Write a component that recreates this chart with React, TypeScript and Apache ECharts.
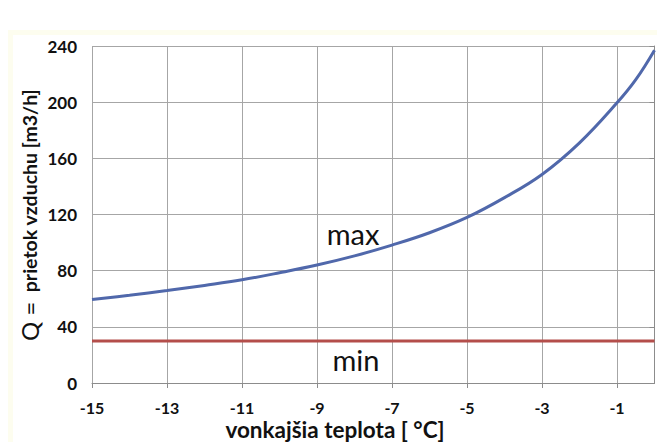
import React, { useEffect, useRef } from "react";
import * as echarts from "echarts";

const temps = [-15, -14, -13, -12, -11, -10, -9, -8, -7, -6, -5, -4, -3, -2, -1, -0.5, 0];
const maxFlow = [59.5, 62.5, 65.8, 69.5, 73.5, 78.5, 84, 90.5, 98.2, 107, 117.9, 132, 148.5, 171, 199.5, 216, 237];
const minTemps = [-15, 0];
const minFlow = [30, 30];

const FONT = "Lato, 'Open Sans', sans-serif";

export default function App() {
  const ref = useRef<HTMLDivElement>(null);
  useEffect(() => {
    if (!ref.current) return;
    const chart = echarts.init(ref.current, undefined, { renderer: "svg" });
    chart.setOption({
      animation: false,
      backgroundColor: "#ffffff",
      textStyle: { fontFamily: FONT },
      grid: { left: 92, right: 2.5, top: 46, bottom: 59, containLabel: false },
      xAxis: {
        type: "value",
        min: -15,
        max: 0,
        interval: 2,
        axisLine: { show: true, onZero: false, lineStyle: { color: "#8c8c8c", width: 1 } },
        axisTick: { show: true, length: 5, lineStyle: { color: "#8c8c8c" } },
        axisLabel: {
          margin: 16,
          fontSize: 16,
          fontWeight: "bold",
          color: "#111",
          fontFamily: FONT,
          showMaxLabel: false,
        },
        splitLine: { show: true, showMaxLine: false, lineStyle: { color: "#a6a6a6", width: 1 } },
      },
      yAxis: {
        type: "value",
        min: 0,
        max: 240,
        interval: 40,
        axisLine: { show: true, lineStyle: { color: "#8c8c8c", width: 1 } },
        axisTick: { show: true, length: 5, lineStyle: { color: "#8c8c8c" } },
        axisLabel: {
          margin: 15,
          fontSize: 17,
          fontWeight: "bold",
          color: "#111",
          fontFamily: FONT,
        },
        splitLine: { show: true, lineStyle: { color: "#a6a6a6", width: 1 } },
      },
      graphic: [
        {
          type: "rect",
          z: -100,
          silent: true,
          shape: { x: 8, y: 30, width: 660, height: 420 },
          style: { fill: "#fdfdef" },
        },
        {
          type: "rect",
          z: -99,
          silent: true,
          shape: { x: 13, y: 35, width: 660, height: 420 },
          style: { fill: "#ffffff" },
        },
        {
          type: "text",
          x: 335,
          y: 429,
          style: {
            text: "vonkajšia teplota [ °C]",
            fontFamily: FONT,
            fontSize: 22.5,
            fontWeight: "bold",
            fill: "#111",
            align: "center",
            verticalAlign: "middle",
          },
        },
        {
          type: "text",
          x: 29,
          y: 215,
          rotation: Math.PI / 2,
          style: {
            text: "{q|Q =}   {b|prietok vzduchu [m3/h]}",
            fontFamily: FONT,
            fill: "#111",
            align: "center",
            verticalAlign: "middle",
            rich: {
              q: { fontSize: 24, fontFamily: FONT, fill: "#111" },
              b: { fontSize: 19.5, fontWeight: "bold", fontFamily: FONT, fill: "#111" },
            },
          },
        },
        {
          type: "text",
          x: 353,
          y: 233,
          style: {
            text: "max",
            fontFamily: FONT,
            fontSize: 29,
            fill: "#111",
            align: "center",
            verticalAlign: "middle",
          },
        },
        {
          type: "text",
          x: 356,
          y: 359,
          style: {
            text: "min",
            fontFamily: FONT,
            fontSize: 29,
            fill: "#111",
            align: "center",
            verticalAlign: "middle",
          },
        },
      ],
      series: [
        {
          name: "max",
          type: "line",
          smooth: 0.4,
          showSymbol: false,
          symbol: "none",
          data: temps.map((t, i) => [t, maxFlow[i]]),
          lineStyle: { color: "#5068ab", width: 3 },
          clip: false,
        },
        {
          name: "min",
          type: "line",
          showSymbol: false,
          symbol: "none",
          data: minTemps.map((t, i) => [t, minFlow[i]]),
          lineStyle: { color: "#b44e4b", width: 3 },
        },
      ],
    });
    return () => chart.dispose();
  }, []);
  return (
    <div
      ref={ref}
      style={{ position: "fixed", left: 0, top: 0, width: 657, height: 442 }}
    />
  );
}
